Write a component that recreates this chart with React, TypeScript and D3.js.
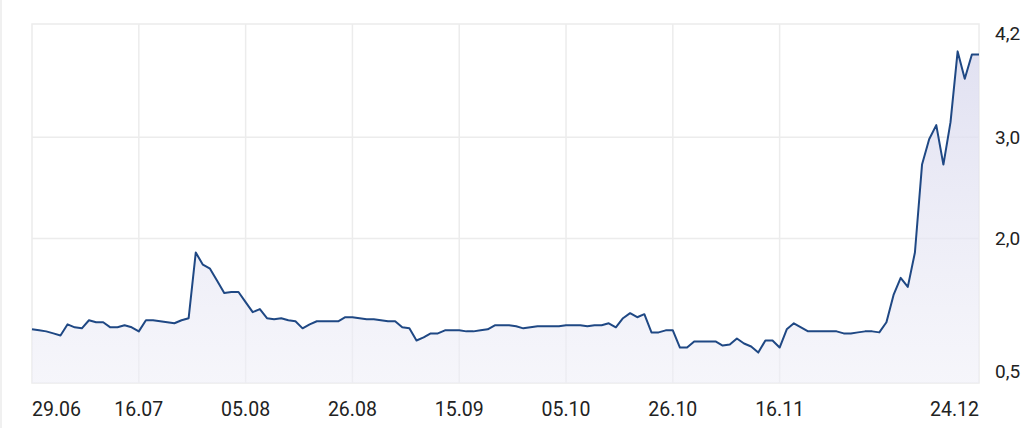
import React from "react";
import * as d3 from "d3";

const values: number[] = [
  1.10, 1.09, 1.08, 1.06, 1.04, 1.15, 1.12, 1.11, 1.19, 1.17,
  1.17, 1.12, 1.12, 1.14, 1.12, 1.08, 1.19, 1.19, 1.18, 1.17,
  1.16, 1.19, 1.21, 1.86, 1.74, 1.70, 1.58, 1.46, 1.47, 1.47,
  1.37, 1.27, 1.30, 1.21, 1.20, 1.21, 1.19, 1.18, 1.11, 1.15,
  1.18, 1.18, 1.18, 1.18, 1.22, 1.22, 1.21, 1.20, 1.20, 1.19,
  1.18, 1.18, 1.12, 1.11, 0.99, 1.02, 1.06, 1.06, 1.09, 1.09,
  1.09, 1.08, 1.08, 1.09, 1.10, 1.14, 1.14, 1.14, 1.13, 1.11,
  1.12, 1.13, 1.13, 1.13, 1.13, 1.14, 1.14, 1.14, 1.13, 1.14,
  1.14, 1.16, 1.12, 1.21, 1.26, 1.22, 1.25, 1.07, 1.07, 1.09,
  1.09, 0.92, 0.92, 0.98, 0.98, 0.98, 0.98, 0.94, 0.95, 1.01,
  0.96, 0.93, 0.87, 0.99, 0.99, 0.92, 1.10, 1.16, 1.12, 1.08,
  1.08, 1.08, 1.08, 1.08, 1.06, 1.06, 1.07, 1.08, 1.08, 1.07,
  1.17, 1.44, 1.61, 1.52, 1.86, 2.73, 2.98, 3.12, 2.73, 3.15,
  3.85, 3.58, 3.82, 3.82,
];

const xTickIndex: number[] = [0, 15, 30, 45, 60, 75, 90, 105, 133];
const xTickLabels: string[] = ["29.06", "16.07", "05.08", "26.08", "15.09", "05.10", "26.10", "16.11", "24.12"];
const xGridIndex: number[] = [15, 30, 45, 60, 75, 90, 105];

const yTickValues: number[] = [0.5, 2.0, 3.0, 4.2];
const yTickLabels: string[] = ["0,5", "2,0", "3,0", "4,2"];
const yGridValues: number[] = [2.0, 3.0];

const W = 1036;
const H = 428;
const plotLeft = 32;
const plotRight = 979;
const plotTop = 24;
const plotBottom = 383;

export default function App() {
  const x = d3.scaleLinear().domain([0, values.length - 1]).range([plotLeft, plotRight]);
  const y = d3.scaleLinear().domain([0.5, 4.2]).range([390, 16]);

  const line = d3
    .line<number>()
    .x((_, i) => x(i))
    .y((d) => y(d));
  const area = d3
    .area<number>()
    .x((_, i) => x(i))
    .y0(plotBottom)
    .y1((d) => y(d));

  const font = "Roboto, 'Noto Sans', sans-serif";

  return (
    <svg
      width={W}
      height={H}
      style={{ position: "absolute", left: 0, top: 0, background: "#ffffff" }}
    >
      <defs>
        <linearGradient id="areaGrad" x1="0" y1="0" x2="0" y2="1" gradientUnits="userSpaceOnUse"
          gradientTransform={`translate(0,${plotTop}) scale(1,${plotBottom - plotTop})`}>
          <stop offset="0" stopColor="#d9d9ee" stopOpacity={0.85} />
          <stop offset="1" stopColor="#eeeef7" stopOpacity={0.55} />
        </linearGradient>
      </defs>
      <line x1={1} x2={1} y1={0} y2={H} stroke="#f0f0f0" strokeWidth={2} />

      {/* frame */}
      <rect
        x={plotLeft}
        y={plotTop}
        width={plotRight - plotLeft}
        height={plotBottom - plotTop}
        fill="none"
        stroke="#ececec"
        strokeWidth={1.5}
      />
      {yGridValues.map((v) => (
        <line key={"hy" + v} x1={plotLeft} x2={plotRight} y1={y(v)} y2={y(v)} stroke="#ececec" strokeWidth={1.5} />
      ))}
      {xGridIndex.map((i) => (
        <line key={"vx" + i} x1={x(i)} x2={x(i)} y1={plotTop} y2={plotBottom} stroke="#ececec" strokeWidth={1.5} />
      ))}

      <path d={area(values) || ""} fill="url(#areaGrad)" />
      <path d={line(values) || ""} fill="none" stroke="#1f4884" strokeWidth={2} strokeLinejoin="round" />

      {xTickIndex.map((i, k) => {
        const anchor = k === 0 ? "start" : k === xTickIndex.length - 1 ? "end" : "middle";
        return (
          <text
            key={"xt" + i}
            x={x(i)}
            y={416}
            textAnchor={anchor}
            fontFamily={font}
            fontSize={19.5}
            fill="#222"
          >
            {xTickLabels[k]}
          </text>
        );
      })}
      {yTickValues.map((v, k) => {
        const yy = Math.max(33, Math.min(371.5, y(v)));
        return (
          <text
            key={"yt" + v}
            x={995}
            y={yy}
            dy="0.35em"
            textAnchor="start"
            fontFamily={font}
            fontSize={19}
            fill="#222"
          >
            {yTickLabels[k]}
          </text>
        );
      })}
    </svg>
  );
}
